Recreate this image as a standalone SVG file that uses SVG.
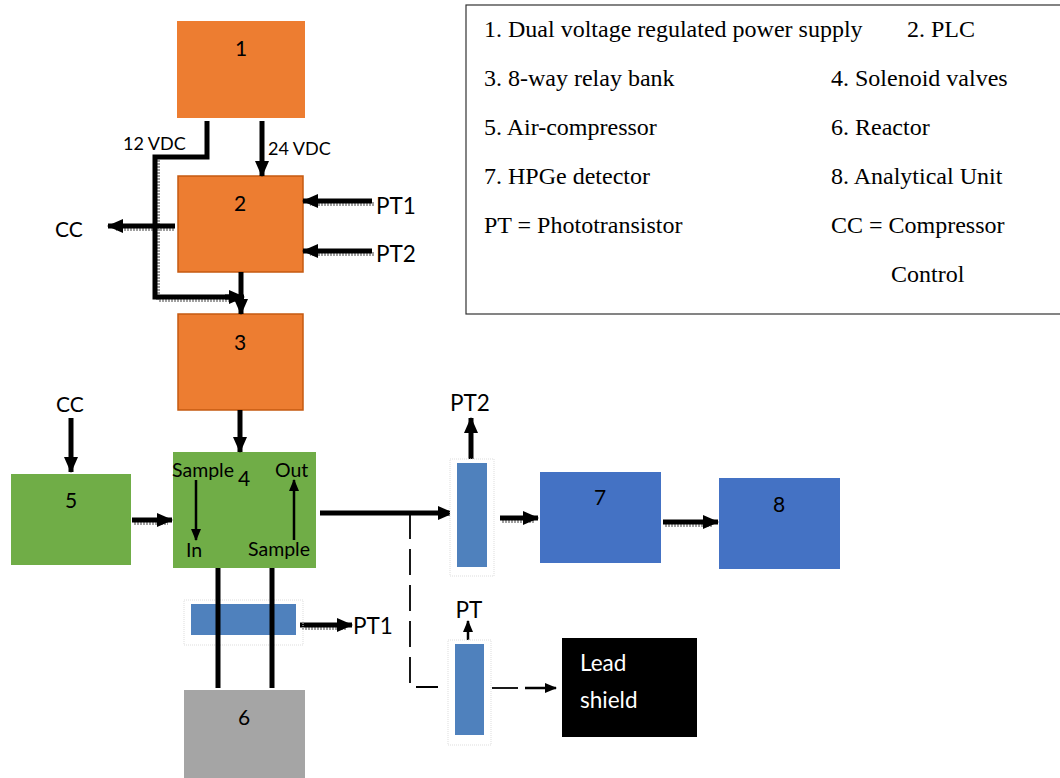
<svg xmlns="http://www.w3.org/2000/svg" width="1060" height="778" viewBox="0 0 1060 778">
<defs>
<marker id="ah" markerUnits="userSpaceOnUse" markerWidth="16" markerHeight="16" viewBox="0 0 16 16" refX="15" refY="8" orient="auto"><path d="M0,1 L16,8 L0,15 Z" fill="#000"/></marker>
<marker id="ahs" markerUnits="userSpaceOnUse" markerWidth="12" markerHeight="12" viewBox="0 0 12 12" refX="11" refY="6" orient="auto"><path d="M0,1 L12,6 L0,11 Z" fill="#000"/></marker>
</defs>
<style>
.lbl{font-family:Lato,"Open Sans","Liberation Sans",sans-serif;font-size:21px;fill:#000}
.pt{font-family:Lato,"Open Sans","Liberation Sans",sans-serif;font-size:22.5px;fill:#000}
.sm{font-family:Lato,"Open Sans","Liberation Sans",sans-serif;font-size:18px;fill:#000}
.md{font-family:Lato,"Open Sans","Liberation Sans",sans-serif;font-size:19.5px;fill:#000}
.leg{font-family:"Liberation Serif","Times New Roman",serif;font-size:24px;fill:#000}
.org{fill:#ED7D31;stroke:#C55A11;stroke-width:1.5}
.grn{fill:#70AD47}
.blu{fill:#4472C4}
.sen{fill:#4F81BD}
.frame{fill:#fff;stroke:#ddd;stroke-width:1;stroke-dasharray:1 1}
.w{fill:none;stroke:#000;stroke-width:5}
.wa{fill:none;stroke:#000;stroke-width:5;marker-end:url(#ah)}
.sh{fill:none;stroke:#a0a0a0;stroke-width:4;stroke-dasharray:2 1}
.thin{fill:none;stroke:#000;stroke-width:2.5;marker-end:url(#ahs)}
.dash{fill:none;stroke:#000;stroke-width:1.8;stroke-dasharray:26 10}
.solid1{fill:none;stroke:#000;stroke-width:1.8}
</style>
<rect width="1060" height="778" fill="#fff"/>

<g id="legend">
<rect x="466" y="5" width="600" height="309" fill="#fff" stroke="#333" stroke-width="1.2"/>
<text class="leg" x="484" y="37">1. Dual voltage regulated power supply</text>
<text class="leg" x="907" y="37">2. PLC</text>
<text class="leg" x="484" y="86">3. 8-way relay bank</text>
<text class="leg" x="831" y="86">4. Solenoid valves</text>
<text class="leg" x="484" y="135">5. Air-compressor</text>
<text class="leg" x="831" y="135">6. Reactor</text>
<text class="leg" x="484" y="184">7. HPGe detector</text>
<text class="leg" x="831" y="184">8. Analytical Unit</text>
<text class="leg" x="484" y="233">PT = Phototransistor</text>
<text class="leg" x="831" y="233">CC = Compressor</text>
<text class="leg" x="891" y="282">Control</text>
</g>

<g id="shadows">
<path class="sh" d="M158,160 V300 H240"/>
<path class="sh" d="M374,204 H310"/>
<path class="sh" d="M374,254 H310"/>
<path class="sh" d="M174,229 H116"/>
<path class="sh" d="M134,523 H168"/>
<path class="sh" d="M502,521 H534"/>
<path class="sh" d="M665,525 H712"/>
<path class="sh" d="M302,628 H346"/>
</g>

<g id="n1"><rect x="177" y="21" width="128" height="97" fill="#ED7D31"/><text class="lbl" x="241" y="56" text-anchor="middle">1</text></g>
<g id="n2"><rect class="org" x="178" y="176" width="125" height="96"/><text class="lbl" x="240" y="211" text-anchor="middle">2</text></g>
<g id="n3"><rect class="org" x="178" y="314" width="125" height="96"/><text class="lbl" x="240" y="350" text-anchor="middle">3</text></g>
<g id="n5"><rect class="grn" x="11" y="474" width="120" height="91"/><text class="lbl" x="71" y="508" text-anchor="middle">5</text></g>
<g id="n4"><rect class="grn" x="173" y="452" width="143" height="116"/><text class="lbl" x="244" y="486" text-anchor="middle">4</text>
<text class="md" x="172" y="477">Sample</text><text class="md" x="186" y="557">In</text>
<text class="md" x="275" y="477">Out</text><text class="md" x="248" y="556">Sample</text></g>
<g id="n6"><rect x="184" y="690" width="121" height="90" fill="#A5A5A5"/><text class="lbl" x="244" y="725" text-anchor="middle">6</text></g>
<g id="n7"><rect class="blu" x="540" y="472" width="121" height="91"/><text class="lbl" x="600" y="505" text-anchor="middle">7</text></g>
<g id="n8"><rect class="blu" x="719" y="478" width="121" height="91"/><text class="lbl" x="779" y="512" text-anchor="middle">8</text></g>
<g id="lead"><rect x="562" y="638" width="135" height="99" fill="#000"/><text class="pt" x="580" y="671" style="fill:#fff">Lead</text><text class="pt" x="580" y="708" style="fill:#fff">shield</text></g>

<g id="connectors">
<path class="w" d="M207,121 V157 H155 V297 H232"/>
<path class="wa" d="M225,297 H244"/>
<path class="wa" d="M262,121 V176"/>
<path class="wa" d="M241,272 V314"/>
<path class="wa" d="M175,226 H108"/>
<path class="wa" d="M372,201 H303"/>
<path class="wa" d="M372,251 H303"/>
<path class="wa" d="M240,410 V452"/>
<path class="wa" d="M71,418 V472"/>
<path class="wa" d="M132,520 H172"/>
<path class="thin" d="M196,480 V540"/>
<path class="thin" d="M294,540 V480"/>
<path class="wa" d="M320,513 H453"/>
<path class="wa" d="M500,518 H538"/>
<path class="wa" d="M663,522 H718"/>
<path class="dash" d="M410,513 V687 H438"/>
<path class="solid1" d="M492,688 H518"/>
<path class="thin" d="M525,688 H556"/>
<path class="wa" d="M300,625 H352"/>
<path class="wa" d="M471,460 V418"/>
<path class="thin" d="M468,640 V621"/>
</g>

<g id="sensor-pt2"><rect class="frame" x="450" y="459" width="44" height="117"/><rect class="sen" x="457" y="463" width="30" height="104"/></g>
<g id="sensor-pt"><rect class="frame" x="448" y="640" width="43" height="105"/><rect class="sen" x="455" y="644" width="29" height="91"/></g>
<g id="sensor-pt1"><rect class="frame" x="184" y="600" width="119" height="45" style="fill:none"/><rect class="sen" x="191" y="604" width="105" height="31"/>
<path class="w" d="M218,568 V688"/><path class="w" d="M272,568 V688"/></g>

<g id="labels">
<text class="sm" x="123" y="150">12 VDC</text>
<text class="sm" x="268" y="155">24 VDC</text>
<text class="lbl" x="55" y="237">CC</text>
<text class="pt" x="376" y="214">PT1</text>
<text class="pt" x="376" y="262">PT2</text>
<text class="lbl" x="70" y="412" text-anchor="middle">CC</text>
<text class="pt" x="470" y="411" text-anchor="middle">PT2</text>
<text class="pt" x="469" y="618" text-anchor="middle">PT</text>
<text class="pt" x="353" y="634">PT1</text>
</g>
</svg>
